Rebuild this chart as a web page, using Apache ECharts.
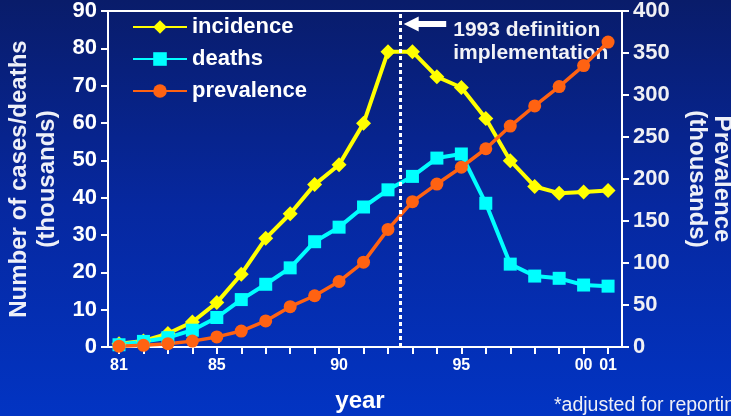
<!DOCTYPE html>
<html>
<head>
<meta charset="utf-8">
<script src="https://cdn.jsdelivr.net/npm/echarts@6/dist/echarts.min.js"></script>
<style>
  html, body { margin: 0; padding: 0; width: 731px; height: 416px; overflow: hidden; }
  #chart { width: 731px; height: 416px; }
</style>
</head>
<body>
<div id="chart"></div>
<script>
// Years are stored as two-digit offsets from 1900 (81 = 1981, 101 = 2001)
const years = [81, 82, 83, 84, 85, 86, 87, 88, 89, 90, 91, 92, 93, 94, 95, 96, 97, 98, 99, 100, 101];

// Thousands of cases / deaths per year (left axis)
const incidence = [0.9, 1.6, 3.6, 6.7, 11.9, 19.5, 29.1, 35.7, 43.5, 48.8, 59.9, 79.1, 79.1, 72.4, 69.5, 61.2, 49.9, 43.0, 41.2, 41.5, 41.9];
const deaths = [0.6, 1.5, 2.5, 4.5, 7.9, 12.7, 16.8, 21.2, 28.2, 32.1, 37.5, 42.1, 45.7, 50.6, 51.7, 38.5, 22.2, 19.0, 18.4, 16.6, 16.3];

// Thousands of people living with the condition (right axis)
const prevalence = [1, 2, 4, 7, 12, 19, 31, 48, 61, 78, 101, 140, 173, 194, 214, 236, 263, 287, 310, 335, 363];

// Year ticks that carry a label, and the text shown for them
const labelledYears = [81, 85, 90, 95, 100, 101];
const yearTickText = { 81: '81', 85: '85', 90: '90', 95: '95', 100: '00', 101: '01' };

// Position of the case-definition change (between 1992 and 1993)
const definitionYear = 92.5;

const FONT = '"Liberation Sans", Arial, Helvetica, sans-serif';
const WHITE = '#ffffff';
const YELLOW = '#ffff00';
const CYAN = '#00ffff';
const ORANGE = '#ff6212';

const pairs = (vals) => years.map((y, i) => [y, vals[i]]);

const chart = echarts.init(document.getElementById('chart'), null, { renderer: 'canvas' });

const option = {
  animation: false,
  backgroundColor: {
    type: 'linear', x: 0, y: 0, x2: 0, y2: 1,
    colorStops: [
      { offset: 0, color: '#091c6a' },
      { offset: 0.5, color: '#0628a0' },
      { offset: 1, color: '#0234c3' }
    ]
  },
  textStyle: { fontFamily: FONT },
  grid: {
    left: 108, right: 109, top: 11, bottom: 69,
    containLabel: false,
    outerBoundsMode: 'none',
    show: true, borderColor: WHITE, borderWidth: 2, backgroundColor: 'transparent'
  },
  legend: {
    orient: 'vertical',
    left: 127, top: 11,
    itemWidth: 54, itemHeight: 17, itemGap: 10,
    textStyle: { color: WHITE, fontSize: 22, fontWeight: 'bold', fontFamily: FONT },
    data: ['incidence', 'deaths', 'prevalence']
  },
  xAxis: {
    type: 'value',
    min: 80.55, max: 101.57,
    name: 'year',
    nameLocation: 'middle',
    nameGap: 42,
    nameTextStyle: { color: WHITE, fontSize: 24, fontWeight: 'bold', fontFamily: FONT, padding: [0, 10, 0, 0] },
    axisLine: { show: true, lineStyle: { color: WHITE, width: 2 } },
    axisTick: { show: true, length: 7, lineStyle: { color: WHITE, width: 2 }, customValues: years },
    axisLabel: {
      color: WHITE, fontSize: 16, fontWeight: 'bold', fontFamily: FONT, margin: 11,
      customValues: labelledYears,
      formatter: (v) => yearTickText[v] || ''
    },
    splitLine: { show: false }
  },
  yAxis: [
    {
      type: 'value', min: 0, max: 90, interval: 10,
      position: 'left',
      name: 'Number of cases/deaths\n(thousands)',
      nameLocation: 'middle',
      nameGap: 41,
      nameTextStyle: { color: '#eef0f8', fontSize: 24, fontWeight: 'bold', fontFamily: FONT, lineHeight: 28 },
      axisLine: { show: true, lineStyle: { color: WHITE, width: 2 } },
      axisTick: { show: true, length: 7, lineStyle: { color: WHITE, width: 2 } },
      axisLabel: { color: WHITE, fontSize: 22, fontWeight: 'bold', fontFamily: FONT, margin: 11 },
      splitLine: { show: false }
    },
    {
      type: 'value', min: 0, max: 400, interval: 50,
      position: 'right',
      name: 'Prevalence\n(thousands)',
      nameLocation: 'middle',
      nameRotate: -90,
      nameGap: 62,
      nameTextStyle: { color: '#eef0f8', fontSize: 24, fontWeight: 'bold', fontFamily: FONT, lineHeight: 25 },
      axisLine: { show: true, lineStyle: { color: WHITE, width: 2 } },
      axisTick: { show: true, length: 7, lineStyle: { color: WHITE, width: 2 } },
      axisLabel: { color: '#f0f0f4', fontSize: 22, fontWeight: 'bold', fontFamily: FONT, margin: 11 },
      splitLine: { show: false }
    }
  ],
  series: [
    {
      name: 'incidence', type: 'line', yAxisIndex: 0,
      data: pairs(incidence),
      symbol: 'diamond', symbolSize: 15,
      lineStyle: { color: YELLOW, width: 4 },
      itemStyle: { color: YELLOW },
      markLine: {
        silent: true,
        symbol: ['none', 'none'],
        label: { show: false },
        lineStyle: { color: WHITE, width: 3, type: [4, 3] },
        data: [{ xAxis: definitionYear }]
      }
    },
    {
      name: 'deaths', type: 'line', yAxisIndex: 0,
      data: pairs(deaths),
      symbol: 'rect', symbolSize: 13,
      lineStyle: { color: CYAN, width: 4 },
      itemStyle: { color: CYAN }
    },
    {
      name: 'prevalence', type: 'line', yAxisIndex: 1,
      data: pairs(prevalence),
      symbol: 'circle', symbolSize: 13,
      lineStyle: { color: ORANGE, width: 3.5 },
      itemStyle: { color: ORANGE }
    }
  ]
};

chart.setOption(option);

// Arrow and caption pointing at the definition change line
const lineX = chart.convertToPixel({ xAxisIndex: 0 }, definitionYear);
const arrowY = 24;
chart.setOption({
  graphic: [
    {
      type: 'polygon',
      shape: { points: [[lineX + 3.5, arrowY], [lineX + 18.5, arrowY - 7.5], [lineX + 18.5, arrowY + 7.5]] },
      style: { fill: WHITE }
    },
    {
      type: 'rect',
      shape: { x: lineX + 17, y: arrowY - 3, width: 29, height: 6 },
      style: { fill: WHITE }
    },
    {
      type: 'text',
      style: {
        x: lineX + 53, y: 41.5,
        text: '1993 definition\nimplementation',
        font: 'bold 21px ' + FONT,
        lineHeight: 23,
        fill: '#f2f2f6',
        verticalAlign: 'middle',
        align: 'left'
      }
    },
    {
      type: 'text',
      style: {
        x: 554, y: 406,
        text: '*adjusted for reporting delays',
        font: '19.5px ' + FONT,
        fill: '#f0f0f6',
        verticalAlign: 'middle',
        align: 'left'
      }
    }
  ]
});
</script>
</body>
</html>
